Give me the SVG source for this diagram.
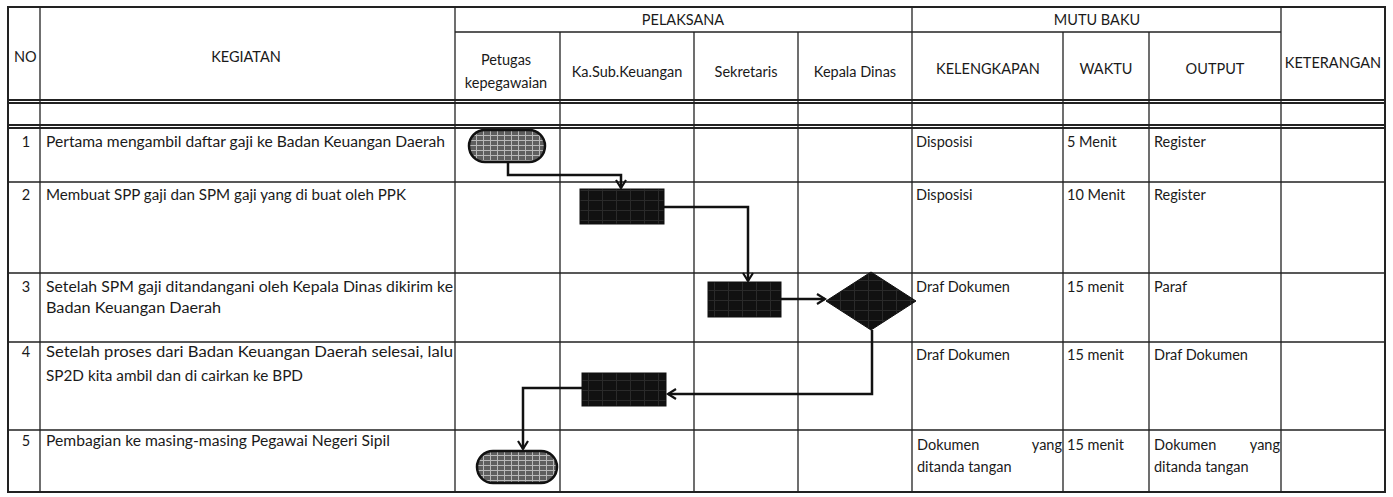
<svg xmlns="http://www.w3.org/2000/svg" width="1393" height="497" viewBox="0 0 1393 497">
<defs>
<pattern id="chk" width="7" height="5" patternUnits="userSpaceOnUse">
<rect width="7" height="5" fill="#5e5e5e"/>
<path d="M0 0.5H7M0.5 0V5" stroke="#b8b8b8" stroke-width="1"/>
</pattern>
<pattern id="dk" width="14" height="10" patternUnits="userSpaceOnUse">
<rect width="14" height="10" fill="#111"/>
<path d="M0 0.5H14M0.5 0V10" stroke="#2a2a2a" stroke-width="1"/>
</pattern>
<marker id="arr" markerWidth="12" markerHeight="12" refX="9" refY="6" orient="auto" markerUnits="userSpaceOnUse">
<path d="M1 1L9 6L1 11" fill="none" stroke="#111" stroke-width="2.2"/>
</marker>
</defs>
<style>
.t{font-family:Lato,"Open Sans","Liberation Sans",sans-serif;font-size:14.5px;fill:#1a1a1a}
.c{text-anchor:middle}
.g{stroke:#222;stroke-width:1.3;fill:none}
.gb{stroke:#222;stroke-width:2;fill:none}
.term{fill:url(#chk);stroke:#111;stroke-width:2.5}
.box{fill:url(#dk);stroke:#111;stroke-width:1}
.con{fill:none;stroke:#111;stroke-width:2.5;marker-end:url(#arr)}
</style>
<rect width="1393" height="497" fill="#fff"/>
<g id="grid">
<rect x="8" y="7" width="1377" height="485" class="gb"/>
<path class="g" d="M455 32H1281"/>
<path class="gb" d="M8 100H1385M8 103H1385M8 125H1385M8 128H1385"/>
<path class="g" d="M8 182H1385M8 273H1385M8 342H1385M8 430H1385"/>
<path class="g" d="M40 7V492M455 7V492M560 32V492M694 32V492M798 32V492M912 7V492M1063 32V492M1149 32V492M1281 7V492"/>
</g>
<g id="header">
<text class="t" x="14" y="62">NO</text>
<text class="t c" x="246" y="62">KEGIATAN</text>
<text class="t c" x="683" y="25">PELAKSANA</text>
<text class="t c" x="506" y="65">Petugas</text>
<text class="t c" x="506" y="88">kepegawaian</text>
<text class="t c" x="627" y="77">Ka.Sub.Keuangan</text>
<text class="t c" x="746" y="77">Sekretaris</text>
<text class="t c" x="855" y="77">Kepala Dinas</text>
<text class="t c" x="1097" y="25">MUTU BAKU</text>
<text class="t c" x="988" y="74">KELENGKAPAN</text>
<text class="t c" x="1106" y="74">WAKTU</text>
<text class="t c" x="1215" y="74">OUTPUT</text>
<text class="t c" x="1333" y="68">KETERANGAN</text>
</g>
<g id="row1">
<text class="t c" x="26" y="147">1</text>
<text class="t" x="46" y="147" textLength="399" lengthAdjust="spacingAndGlyphs">Pertama mengambil daftar gaji ke Badan Keuangan  Daerah</text>
<text class="t" x="916" y="147">Disposisi</text>
<text class="t" x="1067" y="147">5 Menit</text>
<text class="t" x="1154" y="147">Register</text>
</g>
<g id="row2">
<text class="t c" x="26" y="200">2</text>
<text class="t" x="46" y="200" textLength="360" lengthAdjust="spacingAndGlyphs">Membuat SPP gaji dan SPM gaji yang di buat oleh PPK</text>
<text class="t" x="916" y="200">Disposisi</text>
<text class="t" x="1067" y="200">10 Menit</text>
<text class="t" x="1154" y="200">Register</text>
</g>
<g id="row3">
<text class="t c" x="26" y="292">3</text>
<text class="t" x="46" y="292" textLength="407" lengthAdjust="spacingAndGlyphs">Setelah SPM gaji ditandangani oleh Kepala Dinas dikirim ke</text>
<text class="t" x="46" y="313" textLength="175" lengthAdjust="spacingAndGlyphs">Badan  Keuangan  Daerah</text>
<text class="t" x="916" y="292">Draf Dokumen</text>
<text class="t" x="1067" y="292">15 menit</text>
<text class="t" x="1154" y="292">Paraf</text>
</g>
<g id="row4">
<text class="t c" x="26" y="357">4</text>
<text class="t" x="46" y="357" textLength="407" lengthAdjust="spacingAndGlyphs">Setelah proses dari Badan  Keuangan  Daerah selesai, lalu</text>
<text class="t" x="46" y="381" textLength="257" lengthAdjust="spacingAndGlyphs">SP2D kita ambil dan di cairkan ke BPD</text>
<text class="t" x="916" y="360">Draf Dokumen</text>
<text class="t" x="1067" y="360">15 menit</text>
<text class="t" x="1154" y="360">Draf Dokumen</text>
</g>
<g id="row5">
<text class="t c" x="26" y="446">5</text>
<text class="t" x="46" y="446" textLength="344" lengthAdjust="spacingAndGlyphs">Pembagian ke masing-masing Pegawai Negeri Sipil</text>
<text class="t" x="917" y="450">Dokumen</text>
<text class="t" x="1062" y="450" text-anchor="end">yang</text>
<text class="t" x="917" y="472">ditanda tangan</text>
<text class="t" x="1067" y="450">15 menit</text>
<text class="t" x="1154" y="450">Dokumen</text>
<text class="t" x="1280" y="450" text-anchor="end">yang</text>
<text class="t" x="1154" y="472">ditanda tangan</text>
</g>
<g id="connectors">
<path class="con" d="M508 162V175H621V188"/>
<path class="con" d="M664 207H748V281"/>
<path class="con" d="M781 299H825"/>
<path class="con" d="M872 330V394H668"/>
<path class="con" d="M582 388H523V449"/>
</g>
<g id="start"><rect x="469" y="130" width="76" height="32" rx="16" class="term"/></g>
<g id="step2"><rect x="580" y="189" width="84" height="35" class="box"/></g>
<g id="step3"><rect x="708" y="282" width="73" height="35" class="box"/></g>
<g id="decision"><polygon points="871,272 916,301 871,330 826,301" class="box"/></g>
<g id="step4"><rect x="582" y="373" width="84" height="33" class="box"/></g>
<g id="end"><rect x="477" y="451" width="80" height="32" rx="16" class="term"/></g>
</svg>
